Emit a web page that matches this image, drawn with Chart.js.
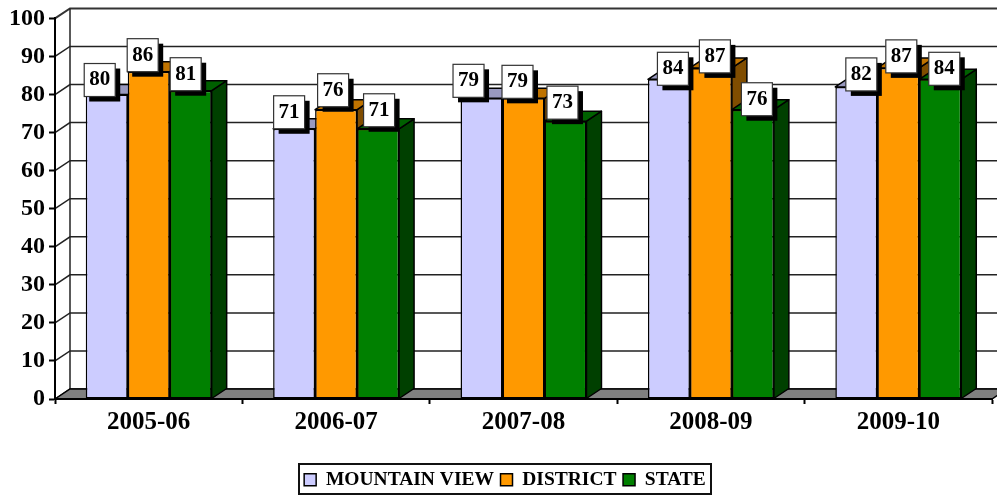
<!DOCTYPE html>
<html>
<head>
<meta charset="utf-8">
<style>html,body{margin:0;padding:0;background:#fff}canvas{display:block}</style>
<script src="https://cdn.jsdelivr.net/npm/chart.js@4/dist/chart.umd.js"></script>
</head>
<body>
<canvas id="c" width="997" height="495"></canvas>
<script>
const categories = ['2005-06', '2006-07', '2007-08', '2008-09', '2009-10'];
const mountainView = [80, 71, 79, 84, 82];
const district = [86, 76, 79, 87, 87];
const state = [81, 71, 73, 76, 84];

// Label placement relative to each bar top centre (style only, not data)
const nudgeX = [[-7,-5,-13,4,5],[-6,-3,-6,4,3],[-5,1,-3,4,4]];
const nudgeY = [[2,0,-1,6,4],[0,-3,0,5,5],[0,-2,-2,6,6]];

const FONT = "'Liberation Serif','Times New Roman',serif";
const DX = 15, DY = -10;
const looks = [
  {front:'#CCCCFF', top:'#9999BF', side:'#666680'},
  {front:'#FF9900', top:'#BF7300', side:'#804D00'},
  {front:'#008000', top:'#006000', side:'#004000'}
];

function poly(ctx, pts, fill){
  ctx.beginPath();
  pts.forEach((p,i)=> i ? ctx.lineTo(p[0],p[1]) : ctx.moveTo(p[0],p[1]));
  ctx.closePath();
  ctx.fillStyle = fill; ctx.fill();
  ctx.strokeStyle = '#000'; ctx.lineWidth = 1.5; ctx.stroke();
}

const frame3d = {
  id:'frame3d',
  afterLayout(chart){
    const l = chart.legend;
    l.left += 9; l.right += 9;
    l.top += 5.5; l.bottom += 5.5;
  },
  beforeDraw(chart){
    const {ctx, chartArea:a, scales:{y}} = chart;
    ctx.save();
    const bx = a.left+DX;
    y.ticks.forEach(t=>{
      const py = y.getPixelForValue(t.value);
      ctx.beginPath();
      ctx.moveTo(a.left,py); ctx.lineTo(bx,py+DY); ctx.lineTo(chart.width+10,py+DY);
      ctx.strokeStyle = t.value===100 ? '#333' : '#222';
      ctx.lineWidth = t.value===100 ? 2 : 1.5;
      ctx.stroke();
    });
    const y0 = y.getPixelForValue(0), y100 = y.getPixelForValue(100);
    ctx.beginPath(); ctx.moveTo(bx,y100+DY); ctx.lineTo(bx,y0+DY);
    ctx.strokeStyle='#222'; ctx.lineWidth=1.5; ctx.stroke();
    poly(ctx, [[a.left,y0],[bx,y0+DY],[a.right+DX,y0+DY],[a.right,y0]], '#808080');
    ctx.restore();
  },
  beforeDatasetsDraw(chart){
    const ctx = chart.ctx;
    ctx.save();
    ctx.lineJoin='round';
    chart.data.datasets.forEach((ds,i)=>{
      chart.getDatasetMeta(i).data.forEach(b=>{
        const l=b.x-b.width/2, r=b.x+b.width/2, t=b.y, bo=b.base;
        poly(ctx, [[r,bo],[r+DX,bo+DY],[r+DX,t+DY],[r,t]], looks[i].side);
        poly(ctx, [[l,t],[l+DX,t+DY],[r+DX,t+DY],[r,t]], looks[i].top);
      });
    });
    ctx.restore();
  },
  afterDatasetsDraw(chart){
    const ctx = chart.ctx;
    ctx.save();
    const w=31, h=33;
    chart.data.datasets.forEach((ds,i)=>{
      chart.getDatasetMeta(i).data.forEach((b,j)=>{
        const x=b.x+nudgeX[i][j]-w/2, y=b.y+nudgeY[i][j]-h;
        ctx.fillStyle='#000'; ctx.fillRect(x+5,y+5,w,h);
        ctx.fillStyle='#fff'; ctx.fillRect(x,y,w,h);
        ctx.strokeStyle='#333'; ctx.lineWidth=1.2; ctx.strokeRect(x,y,w,h);
        ctx.fillStyle='#000'; ctx.font='bold 21px '+FONT;
        ctx.textAlign='center'; ctx.textBaseline='middle';
        ctx.fillText(String(ds.data[j]), x+w/2, y+h/2);
      });
    });
    ctx.restore();
  },
  afterDraw(chart){
    const ctx=chart.ctx;
    ctx.save();
    ctx.strokeStyle='#111'; ctx.lineWidth=2;
    ctx.strokeRect(299,464,412,30);
    ctx.restore();
  }
};

new Chart(document.getElementById('c'), {
  type:'bar',
  plugins:[frame3d],
  data:{
    labels:categories,
    datasets:[
      {label:'MOUNTAIN VIEW', data:mountainView, backgroundColor:looks[0].front},
      {label:'DISTRICT', data:district, backgroundColor:looks[1].front},
      {label:'STATE', data:state, backgroundColor:looks[2].front}
    ].map(d=>Object.assign(d,{borderColor:'#000',borderWidth:1.5,categoryPercentage:0.672,barPercentage:1,borderSkipped:false}))
  },
  options:{
    responsive:false,
    animation:false,
    layout:{padding:{left:0,right:5,top:18,bottom:1}},
    plugins:{
      tooltip:{enabled:false},
      legend:{
        position:'bottom',
        labels:{
          color:'#000',
          font:{family:FONT,size:19.5,weight:'bold'},
          boxWidth:12,boxHeight:12,padding:6.5,
          generateLabels(chart){
            return chart.data.datasets.map((d,i)=>({
              text:d.label,fillStyle:d.backgroundColor,strokeStyle:'#000',lineWidth:1.5,datasetIndex:i,fontColor:'#000'
            }));
          }
        }
      }
    },
    scales:{
      x:{
        offset:true,
        border:{color:'#000',width:2},
        grid:{offset:true,drawOnChartArea:false,drawTicks:true,tickLength:5,tickColor:'#000',tickWidth:2},
        ticks:{color:'#000',font:{family:FONT,size:25,weight:'bold'},padding:4,maxRotation:0},
        afterFit(s){ s.height = 495-399-1-s.chart.legend.height; }
      },
      y:{
        min:0,max:100,
        border:{color:'#000',width:2},
        grid:{drawOnChartArea:false,drawTicks:true,tickLength:6,tickColor:'#000',tickWidth:2},
        ticks:{stepSize:10,color:'#000',font:{family:FONT,size:24,weight:'bold'},padding:4},
        afterFit(s){ s.width = 55; }
      }
    }
  }
});
</script>
</body>
</html>
